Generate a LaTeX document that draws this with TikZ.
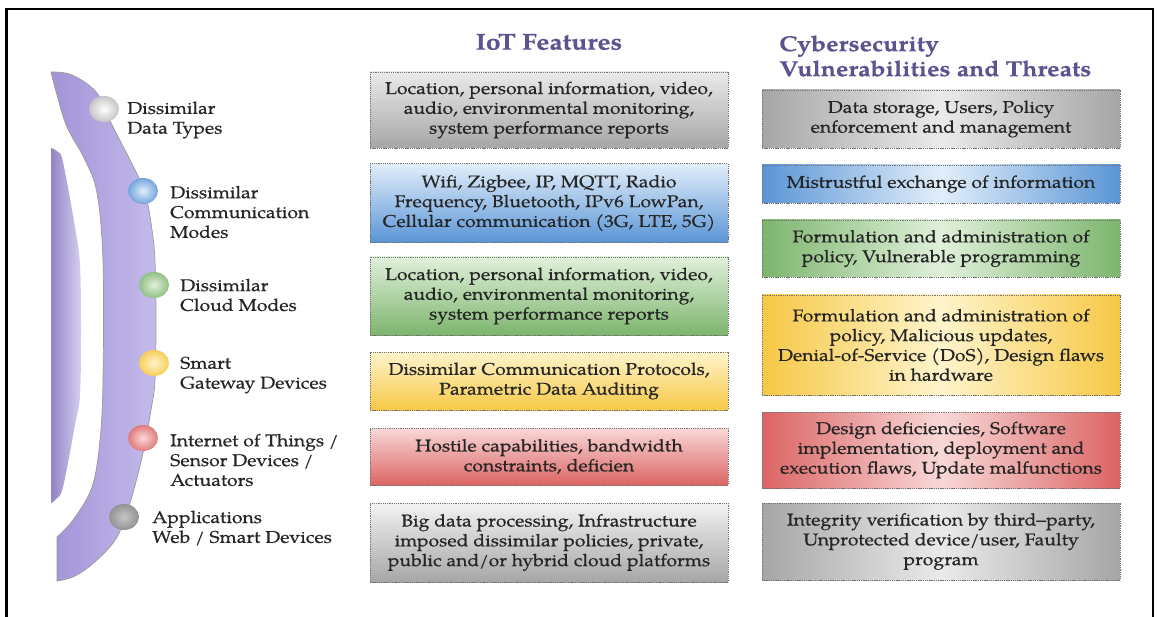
\documentclass[tikz,border=0pt]{standalone}
\usepackage{fontspec}
\setmainfont[FakeStretch=1.14, FakeBold=0.5]{TeX Gyre Pagella}
\usetikzlibrary{shapes.geometric}
\definecolor{hdr}{HTML}{5D5391}
\definecolor{txt}{HTML}{262626}
\definecolor{bandL}{HTML}{A393D8}
\definecolor{bandR}{HTML}{C4BBEB}
\definecolor{gD}{HTML}{A6A6A6}\definecolor{gL}{HTML}{EAEAEA}
\definecolor{bD}{HTML}{5A95D6}\definecolor{bL}{HTML}{E2EEFA}
\definecolor{nD}{HTML}{7DB56E}\definecolor{nL}{HTML}{E0F0DA}
\definecolor{yD}{HTML}{F6C846}\definecolor{yL}{HTML}{FFF4CC}
\definecolor{rD}{HTML}{DC6464}\definecolor{rL}{HTML}{F9D8D8}
\tikzset{
  box/.style={draw=black!55, line width=0.9pt, dash pattern=on 1.3pt off 0.9pt,
    minimum width=358pt, inner sep=0pt, align=center, text=txt,
    font=\fontsize{17}{19.8}\selectfont},
  vgrad/.style 2 args={top color=#1, bottom color=#2},
  hgrad/.style 2 args={left color=#1, right color=#1, middle color=#2},
  lbl/.style={anchor=west, align=left, inner sep=0pt, text=txt,
    font=\fontsize{17}{19.8}\selectfont},
  head/.style={text=hdr, font=\fontsize{23}{25}\selectfont\bfseries, inner sep=0pt},
  ball/.style 2 args={ellipse, minimum width=30pt, minimum height=26pt, inner sep=0pt,
    inner color=#1, outer color=#2},
}
\begin{document}
\begin{tikzpicture}[x=1pt,y=-1pt]
\useasboundingbox (0,0) rectangle (1158,617);
% frame
\draw[line width=2.2pt] (6.5,625) -- (6.5,9) -- (1153,9) -- (1153,625);
% outer band
\path[draw=black!40, line width=0.7pt, left color=bandL, right color=bandR]
  plot[smooth, tension=0.6] coordinates {(51,72) (72,75) (97,93) (112,125) (130,160) (145,193) (152,230) (155,262) (156,320) (155,380) (151,410) (143,453) (130,503) (117,537) (97,560) (75,576) (57,581)}
  -- plot[smooth, tension=0.6] coordinates {(57,537) (73,520) (92,487) (100,440) (103,380) (103,262) (97,193) (85,160) (67,127) (57,95) (51,72)}
  -- cycle;
% inner band
\path[left color=bandL!90!black, right color=bandR!70!white]
  plot[smooth, tension=0.6] coordinates {(51,148) (58,152) (63,162) (75,227) (80,265) (81,330) (80,395) (75,425) (63,487) (56,499) (51,503)}
  -- cycle;
% balls
\node[ball={white}{gray!45}] (b1) at (104,109) {};
\node[ball={bL}{bD!85}] (b2) at (143,191) {};
\node[ball={nL}{nD!85}] (b3) at (154,285) {};
\node[ball={yL}{yD!90}] (b4) at (154,363) {};
\node[ball={rL}{rD!85}] (b5) at (143,438) {};
\node[ball={gray!45}{gray!85}] (b6) at (124,517) {};
% labels
\node[lbl] (l1) at (127,120) {Dissimilar\\Data Types};
\node[lbl] (l2) at (170,212) {Dissimilar\\Communication\\Modes};
\node[lbl] (l3) at (180,295) {Dissimilar\\Cloud Modes};
\node[lbl] (l4) at (180,375) {Smart\\Gateway Devices};
\node[lbl] (l5) at (170,460) {Internet of Things /\\Sensor Devices /\\Actuators};
\node[lbl] (l6) at (152,528) {Applications\\Web / Smart Devices};
% headers
\node[head] (h1) at (549,42) {IoT Features};
\node[head, anchor=west, align=left, font=\fontsize{21.8}{25}\selectfont\bfseries] (h2) at (779,56) {Cybersecurity\\Vulnerabilities and Threats};
% IoT boxes
\node[box, vgrad={gL}{gD}, minimum height=76pt] (i1) at (549,110) {Location, personal information, video,\\audio, environmental monitoring,\\system performance reports};
\node[box, vgrad={bL}{bD}, minimum height=79pt] (i2) at (549,203) {Wifi, Zigbee, IP, MQTT, Radio\\Frequency, Bluetooth, IPv6 LowPan,\\Cellular communication (3G, LTE, 5G)};
\node[box, vgrad={nL}{nD}, minimum height=78pt] (i3) at (549,296) {Location, personal information, video,\\audio, environmental monitoring,\\system performance reports};
\node[box, vgrad={yL}{yD}, minimum height=58pt] (i4) at (549,381) {Dissimilar Communication Protocols,\\Parametric Data Auditing};
\node[box, vgrad={rL}{rD}, minimum height=57pt] (i5) at (549,456.5) {Hostile capabilities, bandwidth\\constraints, deficien};
\node[box, vgrad={gL!60!white}{gD}, minimum height=79pt] (i6) at (549,542.5) {Big data processing, Infrastructure\\imposed dissimilar policies, private,\\public and/or hybrid cloud platforms};
% threat boxes
\node[box, hgrad={gD}{gL}, minimum height=58pt] (t1) at (941,119) {Data storage, Users, Policy\\enforcement and management};
\node[box, hgrad={bD}{bL}, minimum height=38pt] (t2) at (941,184) {Mistrustful exchange of information};
\node[box, hgrad={nD}{nL}, minimum height=57pt] (t3) at (941,248.5) {Formulation and administration of\\policy, Vulnerable programming};
\node[box, hgrad={yD}{yL}, minimum height=100pt] (t4) at (941,345) {Formulation and administration of\\policy, Malicious updates,\\Denial-of-Service (DoS), Design flaws\\in hardware};
\node[box, hgrad={rD}{rL}, minimum height=76pt] (t5) at (941,450) {Design deficiencies, Software\\implementation, deployment and\\execution flaws, Update malfunctions};
\node[box, hgrad={gD}{gL}, minimum height=77pt] (t6) at (941,541.5) {Integrity verification by third--party,\\Unprotected device/user, Faulty\\program};
\end{tikzpicture}
\end{document}
